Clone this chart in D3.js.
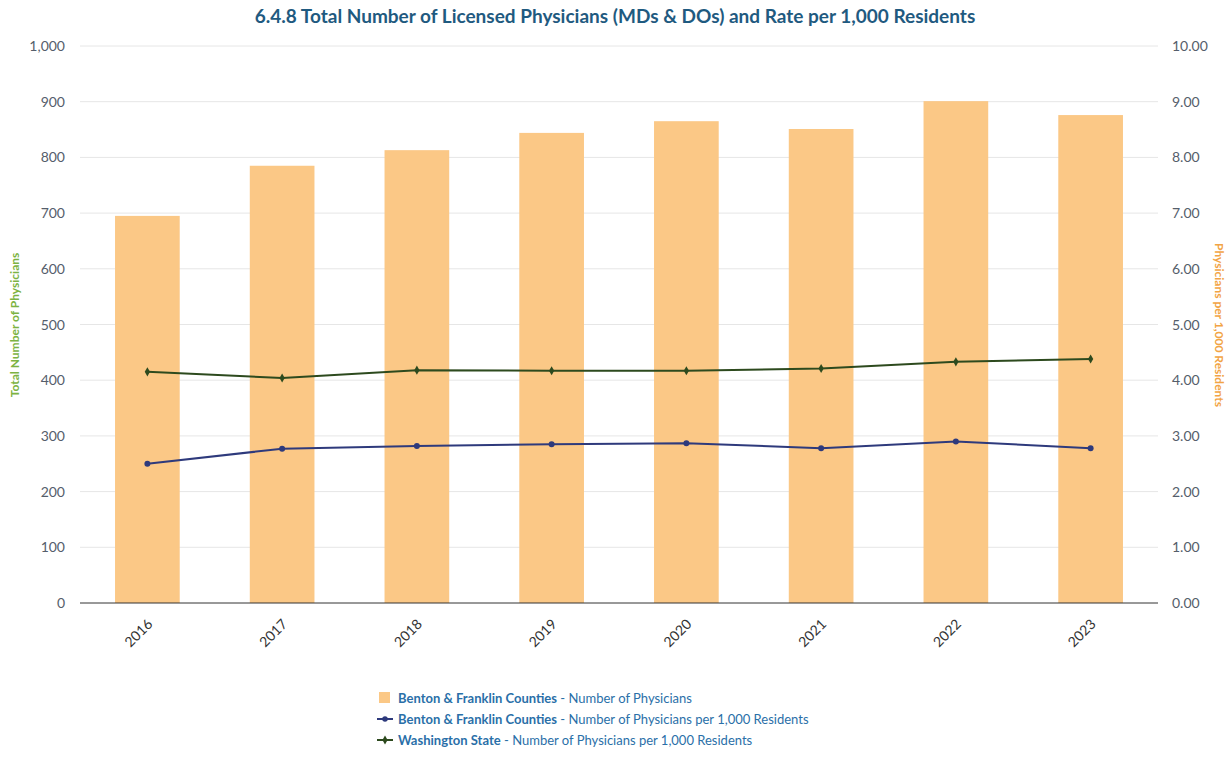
<!DOCTYPE html><html><head><meta charset="utf-8"><script src="https://cdn.jsdelivr.net/npm/d3@7"></script>
<style>body{margin:0;background:#fff;font-family:Lato,sans-serif}</style></head><body><svg id="c" width="1231" height="757"></svg>
<script>
const years=["2016","2017","2018","2019","2020","2021","2022","2023"];
const physicians=[695,785,813,844,865,851,901,876];
const bfRate=[2.50,2.77,2.82,2.85,2.87,2.78,2.90,2.78];
const waRate=[4.15,4.04,4.18,4.17,4.17,4.21,4.33,4.38];
const leftTicks=[0,100,200,300,400,500,600,700,800,900,1000];
const svg=d3.select("#c");
const L=80,R=1158,T=46,B=603;
const x=d3.scaleBand().domain(years).range([L,R]).paddingInner(0.52).paddingOuter(0.26);
const yL=d3.scaleLinear().domain([0,1000]).range([B,T]);
const yR=d3.scaleLinear().domain([0,10]).range([B,T]);
svg.append("text").attr("x",615).attr("y",23).attr("text-anchor","middle").attr("font-size",19).attr("font-weight","bold").attr("fill","#1f5a80").text("6.4.8 Total Number of Licensed Physicians (MDs & DOs) and Rate per 1,000 Residents");
leftTicks.forEach(t=>{
 if(t>0)svg.append("line").attr("x1",L).attr("x2",R).attr("y1",yL(t)).attr("y2",yL(t)).attr("stroke","#e6e6e6");
 svg.append("text").attr("x",65).attr("y",yL(t)+5).attr("text-anchor","end").attr("font-size",14).attr("fill","#555e6b").text(d3.format(",")(t));
 svg.append("text").attr("x",1172).attr("y",yL(t)+5).attr("font-size",14).attr("fill","#555e6b").text((t/100).toFixed(2));
});
svg.selectAll("rect.b").data(years).enter().append("rect").attr("x",d=>x(d)).attr("width",x.bandwidth()).attr("y",(d,i)=>yL(physicians[i])).attr("height",(d,i)=>B-yL(physicians[i])).attr("fill","#fbc886");
svg.append("line").attr("x1",L).attr("x2",R).attr("y1",B).attr("y2",B).attr("stroke","#333");
years.forEach(y=>{const cx=x(y)+x.bandwidth()/2;
 svg.append("text").attr("transform",`translate(${cx+6},${B+22}) rotate(-45)`).attr("text-anchor","end").attr("font-size",14).attr("fill","#333").text(y);});
function line(vals,col,sym){
 const g=d3.line().x((d,i)=>x(years[i])+x.bandwidth()/2).y(d=>yR(d));
 svg.append("path").attr("d",g(vals)).attr("fill","none").attr("stroke",col).attr("stroke-width",2);
 vals.forEach((v,i)=>svg.append("path").attr("transform",`translate(${x(years[i])+x.bandwidth()/2},${yR(v)})`).attr("d",d3.symbol(sym,sym===d3.symbolCircle?28:24)()).attr("fill",col));
}
line(waRate,"#2d4a1e",d3.symbolDiamond);
line(bfRate,"#2e3a7c",d3.symbolCircle);
svg.append("text").attr("transform","translate(19,325) rotate(-90)").attr("text-anchor","middle").attr("font-size",12).attr("font-weight","bold").attr("fill","#7cb342").text("Total Number of Physicians");
svg.append("text").attr("transform","translate(1215,325) rotate(90)").attr("text-anchor","middle").attr("font-size",12).attr("font-weight","bold").attr("fill","#f2a444").text("Physicians per 1,000 Residents");
const leg=[["Benton & Franklin Counties","Number of Physicians","bar"],["Benton & Franklin Counties","Number of Physicians per 1,000 Residents","#2e3a7c"],["Washington State","Number of Physicians per 1,000 Residents","#2d4a1e"]];
leg.forEach((l,i)=>{const y=698+i*21;
 if(l[2]==="bar")svg.append("rect").attr("x",379).attr("y",y-6).attr("width",11).attr("height",11).attr("fill","#fbc886");
 else{svg.append("line").attr("x1",377).attr("x2",393).attr("y1",y).attr("y2",y).attr("stroke",l[2]).attr("stroke-width",2);
  svg.append("path").attr("transform",`translate(385,${y})`).attr("d",d3.symbol(i===1?d3.symbolCircle:d3.symbolDiamond,24)()).attr("fill",l[2]);}
 const t=svg.append("text").attr("x",398).attr("y",y+5).attr("font-size",13).attr("fill","#2a6fa8");
 t.append("tspan").attr("font-weight","bold").text(l[0]);t.append("tspan").text(" - "+l[1]);});
</script></body></html>
